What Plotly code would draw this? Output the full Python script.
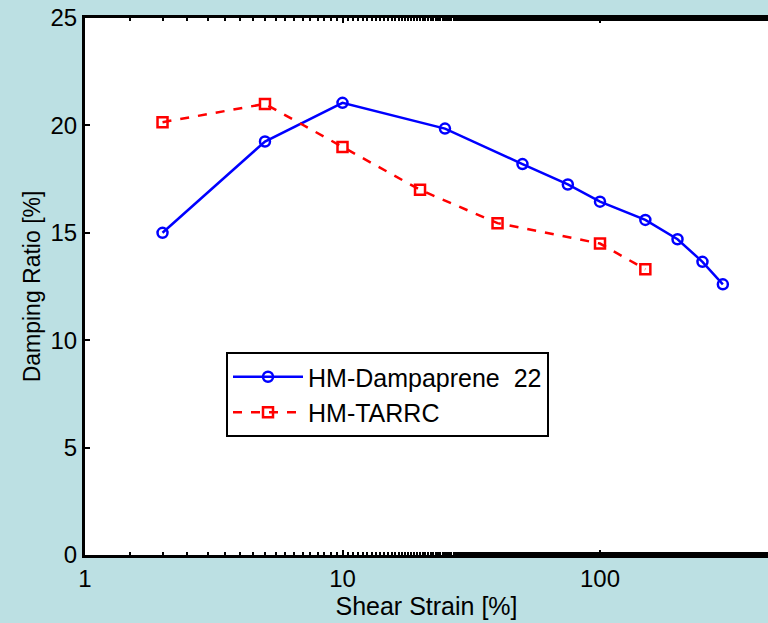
import numpy as np
import plotly.graph_objects as go

# Data
damp_x = [2, 5, 10, 25, 50, 75, 100, 150, 200, 250, 300]
damp_y = [15.0, 19.25, 21.05, 19.85, 18.2, 17.25, 16.45, 15.6, 14.7, 13.65, 12.6]
tarrc_x = [2, 5, 10, 20, 40, 100, 150]
tarrc_y = [20.15, 21.0, 19.0, 17.0, 15.45, 14.5, 13.3]

x_ticks = [1, 10, 100, 1000]
y_ticks = [0, 5, 10, 15, 20, 25]

BG = "rgb(188,224,227)"
FONT = "Liberation Sans, Arial, sans-serif"

fig = go.Figure()
fig.add_trace(go.Scatter(
    x=damp_x, y=damp_y, mode="lines+markers", name="HM-Dampaprene  22",
    line=dict(color="rgb(0,0,255)", width=2.5),
    marker=dict(symbol="circle-open", size=10, color="rgb(0,0,255)", line=dict(width=2.5)),
))
fig.add_trace(go.Scatter(
    x=tarrc_x, y=tarrc_y, mode="lines+markers", name="HM-TARRC",
    line=dict(color="rgb(255,0,0)", width=2.5, dash="dash"),
    marker=dict(symbol="square-open", size=10, color="rgb(255,0,0)", line=dict(width=2.5)),
))

W, H = 768, 623
ml, mt, mb, mr = 85, 18, 68, 0
plot_w = W - ml - mr
decade_px = 257.5
xmax_log = plot_w / decade_px

fig.update_layout(
    width=W, height=H,
    margin=dict(l=ml, r=mr, t=mt, b=mb),
    paper_bgcolor=BG, plot_bgcolor="white",
    font=dict(family=FONT, size=24, color="black"),
    showlegend=True,
    legend=dict(
        x=(226 - ml) / plot_w, y=(555 - 352) / 537, xanchor="left", yanchor="top",
        bgcolor="white", bordercolor="black", borderwidth=2,
        font=dict(size=25), itemwidth=70, tracegroupgap=0,
    ),
)
fig.update_xaxes(
    type="log", range=[0, xmax_log],
    tickvals=x_ticks, ticktext=[str(v) for v in x_ticks],
    ticks="inside", ticklen=5, tickwidth=1.5, tickcolor="black",
    minor=dict(ticks="inside", ticklen=3, tickwidth=1.5, tickcolor="black", showgrid=False),
    showline=True, linecolor="black", linewidth=3, mirror="allticks",
    showgrid=False, zeroline=False,
    title=dict(text="Shear Strain [%]", font=dict(size=25), standoff=6),
    tickfont=dict(size=24),
)
fig.update_yaxes(
    range=[0, 25], tickvals=y_ticks,
    ticks="inside", ticklen=5, tickwidth=1.5, tickcolor="black",
    showline=True, linecolor="black", linewidth=3, mirror=False,
    showgrid=False, zeroline=False,
    title=dict(text="Damping Ratio [%]", font=dict(size=23), standoff=4),
    tickfont=dict(size=24),
)

fig.write_html("out.html")
